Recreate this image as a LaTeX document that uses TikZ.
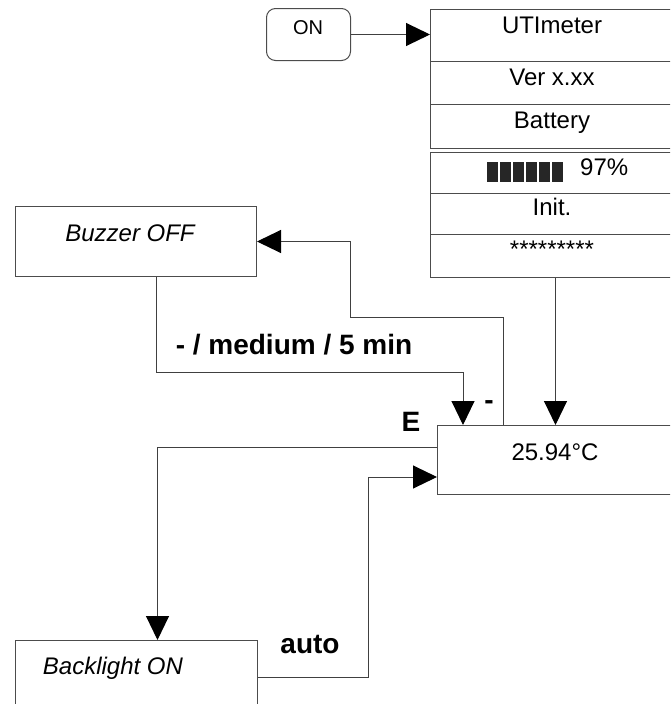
\documentclass[tikz,border=0pt]{standalone}
\usepackage{fontspec}
\setmainfont{Liberation Sans}
\usetikzlibrary{arrows.meta}

\begin{document}
\begin{tikzpicture}[x=1pt,y=-1pt,
  box/.style={draw=black!70,line width=1pt,inner sep=0pt,anchor=north west},
  sep/.style={draw=black!70,line width=1pt},
  flow/.style={draw=black!75,line width=1pt,-{Triangle[length=24pt,width=23pt,color=black]}},
  txt/.style={anchor=base,inner sep=0pt,font=\fontsize{24}{28}\selectfont},
  ital/.style={txt,font=\fontsize{24}{28}\selectfont\itshape},
  lbl/.style={anchor=base,inner sep=0pt,font=\fontsize{28}{33}\selectfont\bfseries}]
\useasboundingbox (0,0) rectangle (670,704);
\clip (0,0) rectangle (670,704);

% boxes
\node[box,rounded corners=9pt,minimum width=84pt,minimum height=52pt](on) at (266,8) {};
\node[box,minimum width=270pt,minimum height=139pt](info) at (430,9) {};
\node[box,minimum width=270pt,minimum height=125pt](status) at (430,152) {};
\node[box,minimum width=263pt,minimum height=69pt](meas) at (437,425) {};
\node[box,minimum width=241pt,minimum height=70pt](buzzer) at (15,206) {};
\node[box,minimum width=242pt,minimum height=80pt](backlight) at (15,640) {};

\foreach \y in {61,104} \draw[sep] (info.west |- 0,\y) -- (info.east |- 0,\y);
\foreach \y in {193,234} \draw[sep] (status.west |- 0,\y) -- (status.east |- 0,\y);

% texts
\node[txt,font=\fontsize{20}{24}\selectfont](ontxt) at (308,34) {ON};
\node[txt](title) at (552,33) {UTImeter};
\node[txt](version) at (552,85) {Ver x.xx};
\node[txt](battery) at (552,128) {Battery};
\foreach \i in {0,...,5} \fill[black!85] (487+13*\i,162) rectangle ++(11,20);
\node[txt,anchor=base west](level) at (580,175) {97\%};
\node[txt](init) at (552,215) {Init.};
\node[txt](stars) at (552,257) {*********};
\node[txt](temp) at (555,460) {25.94°C};
\node[ital](buzzertxt) at (130,241) {Buzzer OFF};
\node[ital](backtxt) at (113,674) {Backlight ON};

% labels
\node[lbl](lblbuzz) at (294,354) {- / medium / 5 min};
\node[lbl](lblminus) at (489,409) {-};
\node[lbl](lble) at (411,431) {E};
\node[lbl](lblauto) at (310,653) {auto};

% connectors
\coordinate (drop) at ([xshift=-10pt]status.south);
\coordinate (up) at ([xshift=66pt]meas.north west);
\coordinate (down) at ([xshift=26pt]meas.north west);
\draw[flow] (on.east) -- (on.east -| info.west);
\draw[flow] (drop) -- (drop |- meas.north);
\draw[flow] (up) |- (350,317) |- (buzzer.east);
\draw[flow] ([xshift=20pt]buzzer.south) -- ++(0,95) -| (down);
\draw[flow] ([yshift=13pt]meas.west) -| ([xshift=21pt]backlight.north);
\draw[flow] ([yshift=3pt]backlight.east) -- ++(110,0) |- ([yshift=-17pt]meas.west);
\end{tikzpicture}
\end{document}
